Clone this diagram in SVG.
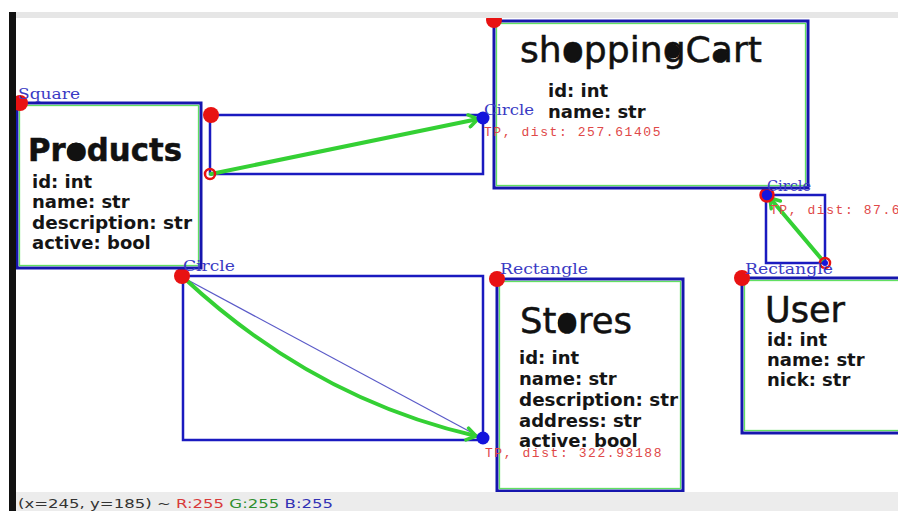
<svg xmlns="http://www.w3.org/2000/svg" width="898" height="511" viewBox="0 0 898 511">
  <defs>
    <style>
      .box { fill: #ffffff; stroke: #1616ae; stroke-width: 3; }
      .inset { fill: none; stroke: #62e062; stroke-width: 1.3; }
      .link { fill: none; stroke: #1a1ac0; stroke-width: 2.5; }
      .title { font-family: "DejaVu Sans", "Liberation Sans", sans-serif; fill: #111111; stroke: #111111; stroke-width: 0.5; }
      .attr { font-family: "DejaVu Sans", "Liberation Sans", sans-serif; font-weight: bold; font-size: 18px; fill: #151515; }
      .tag { font-family: "DejaVu Serif", "Liberation Serif", serif; font-size: 14px; fill: #3a3ac4; }
      .dist { font-family: "Liberation Mono", "DejaVu Sans Mono", monospace; font-size: 13px; letter-spacing: 1.57px; fill: #e04848; }
      .dot { fill: #e81212; }
      .ring { fill: none; stroke: #e81212; stroke-width: 2.5; }
      .hit { fill: #1414dc; }
      .arrow { fill: none; stroke: #34d034; stroke-width: 4; stroke-linecap: round; }
      .status { font-family: "DejaVu Sans", "Liberation Sans", sans-serif; font-size: 13px; }
      .blob { fill: #111111; }
    </style>
    <marker id="head" markerUnits="userSpaceOnUse" markerWidth="16" markerHeight="16" refX="0" refY="0" viewBox="-12 -8 16 16" orient="auto">
      <path d="M-9,-6 L0,0 L-9,6" fill="none" stroke="#34d034" stroke-width="3.5" stroke-linecap="round" stroke-linejoin="round"/>
    </marker>
    <clipPath id="view">
      <rect x="16" y="18" width="882" height="474"/>
    </clipPath>
  </defs>

  <rect x="0" y="0" width="898" height="511" fill="#ffffff"/>

  <g clip-path="url(#view)">
    <!-- connectors: bounding boxes, links and end points -->
    <g id="connectors">
      <rect class="link" x="210" y="115" width="273" height="59"/>
      <rect class="link" x="766" y="195" width="59" height="68"/>
      <rect class="link" x="183" y="276" width="300" height="164"/>

      <line class="arrow" x1="211" y1="174" x2="478" y2="119" marker-end="url(#head)"/>
      <line class="arrow" x1="824" y1="262" x2="770" y2="198" marker-end="url(#head)"/>
      <line x1="184" y1="278" x2="478" y2="436" stroke="#5a5ac8" stroke-width="1.2"/>
      <path class="arrow" d="M184,278 Q314,399 476,436" stroke-width="6" stroke="#3ed83e" marker-end="url(#head)"/>

      <circle class="dot" cx="211" cy="115" r="8"/>
      <circle class="ring" cx="210" cy="174" r="5"/>
      <circle class="hit" cx="483" cy="118" r="6.5"/>

      <circle class="hit" cx="767" cy="195" r="6"/>
      <circle class="ring" cx="767" cy="195" r="6.5" stroke-width="1.8"/>
      <circle class="hit" cx="825" cy="263" r="3"/>
      <circle class="ring" cx="825" cy="263" r="5"/>

      <circle class="dot" cx="182" cy="276" r="8"/>
      <circle class="hit" cx="483" cy="438" r="6.5"/>
    </g>

    <!-- Products -->
    <g id="products">
      <rect class="box" x="17" y="103" width="184" height="165"/>
      <rect class="inset" x="19.5" y="105.5" width="179" height="160"/>
      <text class="title" x="28" y="161" font-size="32" font-weight="bold" textLength="154" lengthAdjust="spacingAndGlyphs">Products</text>
      <circle class="blob" cx="76" cy="151.5" r="9"/>
      <text class="attr" x="32" y="187.5">id: int</text>
      <text class="attr" x="32" y="208">name: str</text>
      <text class="attr" x="32" y="228.5" textLength="160" lengthAdjust="spacingAndGlyphs">description: str</text>
      <text class="attr" x="32" y="249">active: bool</text>
      <circle class="dot" cx="20" cy="103" r="8"/>
      <text class="tag" x="18" y="99" textLength="62" lengthAdjust="spacingAndGlyphs">Square</text>
    </g>

    <!-- shoppingCart -->
    <g id="shopping-cart">
      <rect class="box" x="494" y="21" width="314" height="167"/>
      <rect class="inset" x="496.5" y="23.5" width="309" height="162"/>
      <text class="title" x="520" y="62" font-size="35" textLength="242" lengthAdjust="spacingAndGlyphs">shoppingCart</text>
      <circle class="blob" cx="572.7" cy="52" r="8.5"/>
      <circle class="blob" cx="673" cy="51.5" r="7"/>
      <circle class="blob" cx="721" cy="55" r="6.5"/>
      <text class="attr" x="548" y="97">id: int</text>
      <text class="attr" x="548" y="117.5">name: str</text>
      <circle class="dot" cx="494" cy="20" r="8"/>
    </g>

    <!-- Stores -->
    <g id="stores">
      <rect class="box" x="497" y="279" width="186" height="212"/>
      <rect class="inset" x="499.5" y="281.5" width="181" height="207"/>
      <text class="title" x="520" y="333" font-size="35" textLength="112" lengthAdjust="spacingAndGlyphs">Stores</text>
      <circle class="blob" cx="566.8" cy="323" r="9"/>
      <text class="attr" x="519" y="364">id: int</text>
      <text class="attr" x="519" y="385">name: str</text>
      <text class="attr" x="519" y="406" textLength="159" lengthAdjust="spacingAndGlyphs">description: str</text>
      <text class="attr" x="519" y="426.5">address: str</text>
      <text class="attr" x="519" y="447">active: bool</text>
      <circle class="dot" cx="497" cy="279" r="8"/>
    </g>

    <!-- User -->
    <g id="user">
      <rect class="box" x="742" y="278" width="170" height="155"/>
      <rect class="inset" x="744.5" y="280.5" width="165" height="150"/>
      <text class="title" x="765" y="322" font-size="35" textLength="80" lengthAdjust="spacingAndGlyphs">User</text>
      <text class="attr" x="767" y="346">id: int</text>
      <text class="attr" x="767" y="366">name: str</text>
      <text class="attr" x="767" y="386">nick: str</text>
      <circle class="dot" cx="742" cy="278" r="8"/>
    </g>

    <!-- shape tags and match distances -->
    <g id="tags">
      <text class="tag" x="484" y="115" textLength="50" lengthAdjust="spacingAndGlyphs">Circle</text>
      <text class="dist" x="484" y="136">TP, dist: 257.61405</text>
      <text class="tag" x="767" y="191" textLength="44" lengthAdjust="spacingAndGlyphs">Circle</text>
      <text class="dist" x="770" y="214">TP, dist: 87.61</text>
      <text class="tag" x="183" y="271" textLength="52" lengthAdjust="spacingAndGlyphs">Circle</text>
      <text class="tag" x="500" y="274" textLength="88" lengthAdjust="spacingAndGlyphs">Rectangle</text>
      <text class="tag" x="745" y="274" textLength="88" lengthAdjust="spacingAndGlyphs">Rectangle</text>
      <text class="dist" x="485" y="457">TP, dist: 322.93188</text>
    </g>
  </g>

  <!-- window frame -->
  <rect x="16" y="12" width="882" height="6" fill="#e6e6e6"/>
  <rect x="16" y="492" width="882" height="19" fill="#ececec"/>
  <rect x="9" y="12" width="7" height="499" fill="#111111"/>
  <text class="status" x="18" y="508" textLength="315" lengthAdjust="spacingAndGlyphs"><tspan fill="#333333">(x=245, y=185) ~ </tspan><tspan fill="#d83a3a">R:255</tspan><tspan fill="#333333"> </tspan><tspan fill="#2f8f2f">G:255</tspan><tspan fill="#333333"> </tspan><tspan fill="#3232b4">B:255</tspan></text>
</svg>
